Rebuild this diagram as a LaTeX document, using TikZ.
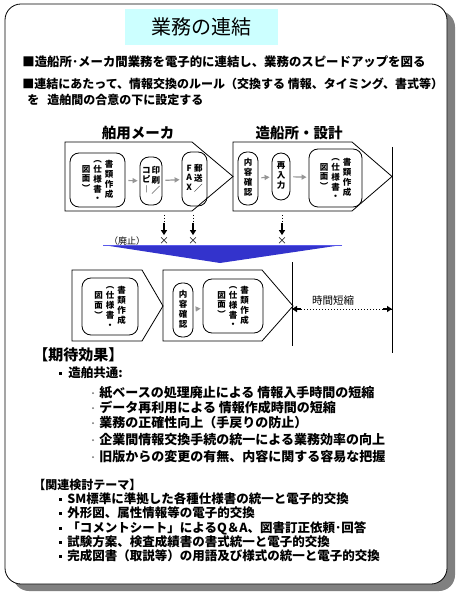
\documentclass[tikz,border=0pt]{standalone}
\usepackage{fontspec}
\setmainfont{Noto Sans CJK JP}
\usetikzlibrary{arrows.meta}
\definecolor{titlecyan}{RGB}{204,255,255}
\definecolor{wedgeblue}{RGB}{51,51,204}
\definecolor{wedgelight}{RGB}{90,90,235}
\definecolor{arrowgray}{RGB}{150,150,150}
\definecolor{shadowgray}{RGB}{128,128,128}
\definecolor{dotgray}{RGB}{110,110,110}
\newcommand{\tate}[1]{\begin{tabular}{@{}c@{}}#1\end{tabular}}
\newcommand{\docstack}{\tate{図\\面\\︶}\hspace{3pt}\tate{︵\\仕\\様\\書\\・}\hspace{3pt}\tate{書\\類\\作\\成}}

\begin{document}
\begin{tikzpicture}[x=1pt,y=-1pt,line width=0.8pt,
	inbox/.style={draw,rounded corners=9pt,inner sep=0pt,font=\bfseries\fontsize{8.5}{9.2}\selectfont},
	flowarrow/.style={draw=arrowgray,line width=1.2pt,-{Triangle[length=5pt,width=5pt]},shorten <=3pt,shorten >=2pt},
	dotline/.style={dotted,line width=1pt},
	blacktip/.style={line width=1.6pt,-{Triangle[length=5pt,width=6pt]}},
	headline/.style={anchor=west,inner sep=0pt,font=\bfseries\fontsize{12}{14}\selectfont},
	effectitem/.style={anchor=west,inner sep=0pt,font=\bfseries\fontsize{13}{15}\selectfont},
	themeitem/.style={anchor=west,inner sep=0pt,font=\bfseries\fontsize{12.5}{14}\selectfont}]
	\useasboundingbox (0,0) rectangle (458,593);

	% Frame with shadow
	\fill[shadowgray,rounded corners=16pt] (13,11) rectangle (455,591);
	\draw[fill=white,rounded corners=16pt] (5,4) rectangle (447,584);

	\node[fill=titlecyan,minimum width=153pt,minimum height=36pt,inner sep=0pt,font=\fontsize{20}{24}\selectfont] (title) at (201.5,27) {業務の連結};

	\node[headline,font=\bfseries\fontsize{12.4}{14}\selectfont] (aim1) at (22,62) {■造船所･メーカ間業務を電子的に連結し、業務のスピードアップを図る};
	\node[headline] (aim2) at (22,84) {■連結にあたって、情報交換のルール（交換する 情報、タイミング、書式等）};
	\node[headline] (aim3) at (27,100) {を\hspace{8pt}造舶間の合意の下に設定する};

	% Present flow
	\node[font=\bfseries\fontsize{14.5}{16}\selectfont] (makerlabel) at (138,133) {舶用メーカ};
	\node[font=\bfseries\fontsize{14.5}{16}\selectfont] (yardlabel) at (299,133) {造船所・設計};

	\draw (65,142) -- (192,142) -- (233,176.5) -- (192,211) -- (65,211) -- cycle;
	\draw (233,142) -- (352,142) -- (392,176.5) -- (352,211) -- (233,211) -- cycle;

	\node[inbox,minimum width=55pt,minimum height=54pt] (mkdoc) at (97.5,180) {\docstack};
	\node[inbox,minimum width=22pt,minimum height=48pt] (mkprint) at (151,181) {\tate{コ\\ピ\\︱}\hspace{1pt}\tate{印\\刷\\／}};
	\node[inbox,minimum width=25pt,minimum height=54pt] (mkmail) at (194.5,179) {\tate{F\\A\\X}\hspace{2pt}\tate{郵\\送\\／}};
	\node[inbox,minimum width=20pt,minimum height=53pt] (ydcheck) at (248,178.5) {\tate{内\\容\\確\\認}};
	\node[inbox,minimum width=18pt,minimum height=47pt] (ydinput) at (281,176.5) {\tate{再\\入\\力}};
	\node[inbox,minimum width=53pt,minimum height=58pt] (yddoc) at (335.5,178) {\docstack};

	\draw[flowarrow] (mkdoc) -- (mkprint);
	\draw[flowarrow] (mkprint) -- (mkmail);
	\draw[flowarrow] (ydcheck) -- (ydinput);
	\draw[flowarrow] (ydinput) -- (yddoc);

	% Abolished steps
	\node[font=\fontsize{9}{11}\selectfont] (abolish) at (127,241) {（廃止）};
	\foreach \name/\xx in {a/164,b/193,c/282}{
		\node[font=\fontsize{10}{12}\selectfont,inner sep=0pt] (cross\name) at (\xx,241) {×};
		\coordinate (top\name) at (\xx,215);
		\coordinate (mid\name) at (\xx,223);
		\draw[dotline] (top\name) -- (mid\name);
		\draw[blacktip] (mid\name) -- ([yshift=2pt]cross\name.north);
	}

	\fill[wedgeblue] (103,245) -- (342,245) -- (220,263) -- cycle;
	\draw[wedgelight,line width=1pt] (103,245) -- (342,245);

	% New flow
	\draw (72,270) -- (142,270) -- (163,306) -- (142,341) -- (72,341) -- cycle;
	\draw (163,270) -- (262,270) -- (293,306) -- (262,341) -- (163,341) -- cycle;

	\node[inbox,minimum width=56pt,minimum height=57pt] (newdoc) at (110,306.5) {\docstack};
	\node[inbox,minimum width=20pt,minimum height=54pt] (newcheck) at (183,310) {\tate{内\\容\\確\\認}};
	\node[inbox,minimum width=60pt,minimum height=54pt] (newdocb) at (233,306) {\docstack};
	\draw[flowarrow] (newcheck) -- (newdocb);

	\draw (292,262) -- (292,346);
	\draw (392,147) -- (392,353);
	\coordinate (timel) at (292,309);
	\coordinate (timer) at (392,309);
	\draw[dotline] (timel) -- (timer);
	\draw[blacktip] ([xshift=9pt]timel) -- (timel);
	\draw[blacktip] ([xshift=-9pt]timer) -- (timer);
	\node[font=\fontsize{10.5}{12}\selectfont] (timelabel) at (333,301) {時間短縮};

	% Expected effects
	\node[anchor=west,inner sep=0pt,font=\bfseries\fontsize{15}{17}\selectfont] (effect) at (33,355) {【期待効果】};
	\fill (58.5,371.5) rectangle (61.5,374.5);
	\node[anchor=west,inner sep=0pt,font=\bfseries\fontsize{12.5}{14}\selectfont] (common) at (68,373) {造舶共通:};
	\foreach \i/\yy/\txt in {1/393/紙ベースの処理廃止による 情報入手時間の短縮,
		2/408/データ再利用による 情報作成時間の短縮,
		3/423/業務の正確性向上（手戻りの防止）,
		4/440/企業間情報交換手続の統一による業務効率の向上,
		5/457/旧版からの変更の有無、内容に関する容易な把握}{
		\fill[dotgray] (93,\yy) circle (1pt);
		\node[effectitem] (eff\i) at (99,\yy) {\txt};
	}

	% Related themes
	\node[anchor=west,inner sep=0pt,font=\bfseries\fontsize{12}{14}\selectfont] (theme) at (33,485) {【関連検討テーマ】};
	\foreach \i/\yy/\txt in {1/499/SM標準に準拠した各種仕様書の統一と電子的交換,
		2/513/外形図、属性情報等の電子的交換,
		3/528/「コメントシート」によるQ＆A、図書訂正依頼･回答,
		4/542/試験方案、検査成績書の書式統一と電子的交換,
		5/556/完成図書（取説等）の用語及び様式の統一と電子的交換}{
		\fill (58.5,\yy-1.5) rectangle (61.5,\yy+1.5);
		\node[themeitem] (thm\i) at (67,\yy) {\txt};
	}
\end{tikzpicture}
\end{document}
